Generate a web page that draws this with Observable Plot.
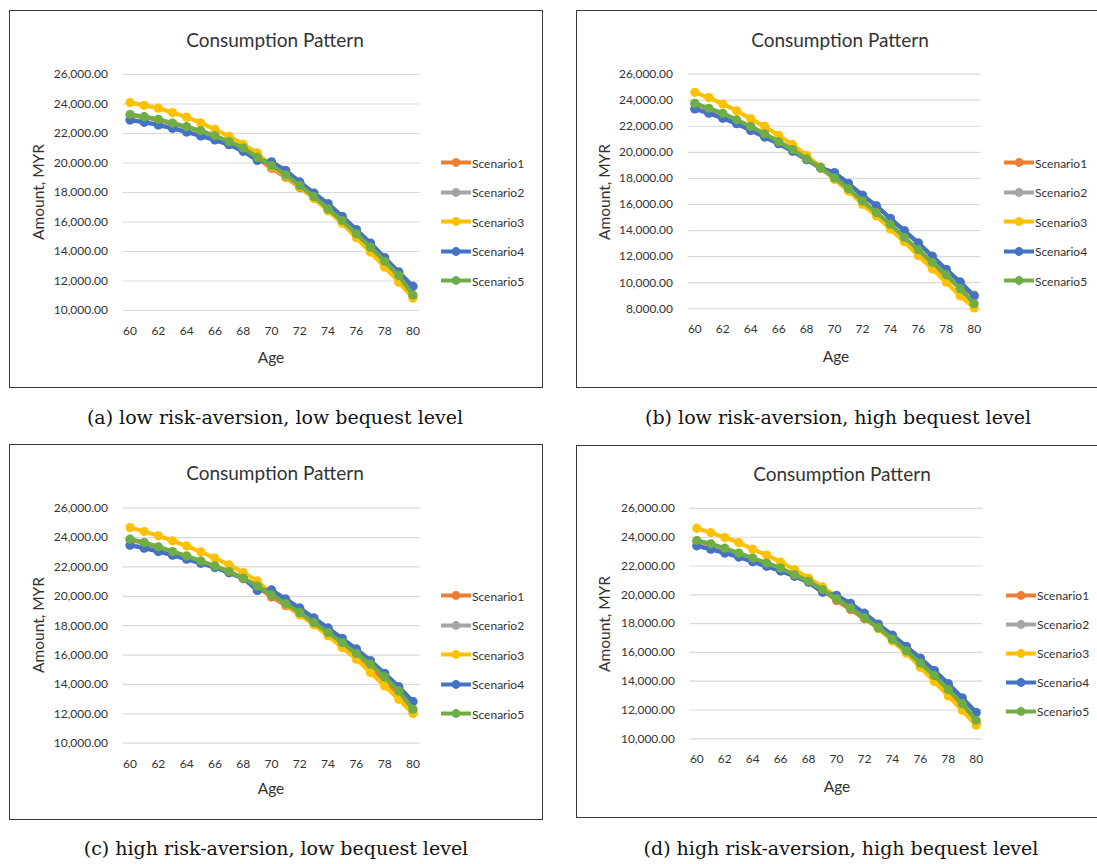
<!DOCTYPE html>
<html>
<head>
<meta charset="utf-8">
<script src="https://cdn.jsdelivr.net/npm/d3@7"></script>
<script src="https://cdn.jsdelivr.net/npm/@observablehq/plot@0.6"></script>
<style>
  html, body { margin: 0; padding: 0; background: #fff; }
  body { width: 1097px; height: 864px; overflow: hidden; position: relative; }
  .box { position: absolute; border: 1.5px solid #3a3a3a; box-sizing: border-box; background: #fff; }
  .abs { position: absolute; transform: translate(-50%, -50%); white-space: nowrap; }
  .title { font-family: Lato, "Open Sans", sans-serif; font-size: 19px; color: #333; }
  .axt { font-family: Lato, "Open Sans", sans-serif; font-size: 15.5px; color: #333; }
  .cap { font-family: "DejaVu Serif", "Liberation Serif", serif; font-size: 19px; color: #111; }
  .leg { position: absolute; display: flex; align-items: center; font-family: Lato, "Open Sans", sans-serif; font-size: 12px; color: #333; transform: translateY(-50%); }
  .plotwrap { position: absolute; }
</style>
</head>
<body>
<script>
// ---------- data ----------
const ages = [60,61,62,63,64,65,66,67,68,69,70,71,72,73,74,75,76,77,78,79,80];
const seriesNames = ["Scenario1","Scenario2","Scenario3","Scenario4","Scenario5"];
const seriesColors = ["#ED7D31","#A5A5A5","#FFC000","#4472C4","#70AD47"];
const xTicks = [60,62,64,66,68,70,72,74,76,78,80];
const yTicks10k = [10000,12000,14000,16000,18000,20000,22000,24000,26000];
const yTicks8k = [8000,10000,12000,14000,16000,18000,20000,22000,24000,26000];
const chartTitle = "Consumption Pattern";
const xLabel = "Age";
const yLabel = "Amount, MYR";
const captions = [
  "(a) low risk-aversion, low bequest level",
  "(b) low risk-aversion, high bequest level",
  "(c) high risk-aversion, low bequest level",
  "(d) high risk-aversion, high bequest level"
];

// (a) low risk-aversion, low bequest level
const a_s1 = [23240,23100,22920,22670,22420,22150,21810,21410,20980,20340,19640,19040,18330,17640,16820,16010,15080,14140,13160,12160,10950];
const a_s2 = [22930,22780,22600,22370,22120,21850,21580,21260,20810,20190,20080,19510,18720,17970,17250,16390,15490,14580,13590,12620,11650];
const a_s3 = [24100,23910,23720,23420,23110,22720,22280,21800,21270,20680,19760,19120,18380,17590,16760,15920,14930,13950,12940,11920,10840];
const a_s4 = [22910,22760,22580,22350,22100,21830,21560,21240,20790,20170,20060,19490,18700,17950,17230,16370,15470,14560,13570,12600,11630];
const a_s5 = [23280,23140,22960,22710,22460,22190,21850,21450,21020,20380,19830,19200,18470,17730,16890,16100,15200,14290,13340,12370,11050];

// (b) low risk-aversion, high bequest level
const b_s1 = [23720,23340,22960,22450,21950,21390,20780,20170,19460,18780,17990,17130,16180,15270,14360,13350,12400,11430,10450,9600,9050];
const b_s2 = [23350,23020,22640,22210,21700,21190,20680,20100,19460,18830,18450,17630,16720,15910,14940,14000,13060,12040,11030,10060,9000];
const b_s3 = [24600,24200,23710,23180,22570,21990,21300,20590,19770,18890,17920,17030,16010,15120,14110,13140,12070,11060,10040,8980,8060];
const b_s4 = [23330,23000,22620,22190,21680,21170,20660,20080,19440,18810,18430,17610,16700,15890,14920,13980,13040,12020,11010,10040,8980];
const b_s5 = [23760,23380,23000,22490,21990,21430,20820,20210,19500,18810,18050,17210,16270,15380,14490,13470,12530,11570,10600,9530,8390];

// (c) high risk-aversion, low bequest level
const c_s1 = [23850,23620,23330,23010,22710,22370,22030,21650,21190,20670,19950,19380,18760,18120,17420,16680,15910,15100,14200,13270,12150];
const c_s2 = [23500,23300,23070,22820,22550,22270,21980,21620,21250,20420,20440,19820,19210,18530,17850,17140,16420,15620,14760,13850,12850];
const c_s3 = [24680,24410,24120,23780,23430,23030,22600,22140,21620,21050,20150,19460,18740,18060,17310,16510,15720,14810,13900,12990,12020];
const c_s4 = [23480,23280,23050,22800,22530,22250,21960,21600,21230,20400,20420,19800,19190,18510,17830,17120,16400,15600,14740,13830,12830];
const c_s5 = [23890,23660,23370,23050,22750,22410,22070,21690,21230,20710,20100,19510,18890,18210,17530,16850,16100,15380,14510,13560,12310];

// (d) high risk-aversion, high bequest level
const d_s1 = [23730,23500,23200,22860,22510,22170,21820,21360,20900,20330,19600,18980,18330,17680,16860,16030,15110,14190,13200,12210,11120];
const d_s2 = [23420,23190,22920,22640,22320,22000,21670,21310,20890,20200,19970,19420,18730,17970,17210,16430,15610,14760,13840,12850,11840];
const d_s3 = [24620,24320,23980,23630,23170,22760,22280,21750,21170,20550,19910,19170,18410,17650,16800,15950,14960,13980,12970,11980,10940];
const d_s4 = [23400,23170,22900,22620,22300,21980,21650,21290,20870,20180,19950,19400,18710,17950,17190,16410,15590,14740,13820,12830,11820];
const d_s5 = [23770,23540,23240,22900,22550,22210,21860,21400,20940,20370,19720,19100,18410,17720,16920,16110,15260,14390,13420,12440,11290];

// ---------- layout (page pixels) ----------
const panels = [
  { series: [a_s1,a_s2,a_s3,a_s4,a_s5], yTicks: yTicks10k,
    box: {l: 9, t: 10, w: 534, h: 378}, m: {l: 113.5, r: 123.5, t: 64, b: 78},
    title: [275, 38.5], ytitle: [38, 191.5], xtitle: [271, 356.5], cap: [275, 417],
    leg: {x: 441, y0: 162.7, dy: 29.5} },
  { series: [b_s1,b_s2,b_s3,b_s4,b_s5], yTicks: yTicks8k,
    box: {l: 576, t: 10, w: 524, h: 378}, m: {l: 112, r: 117, t: 64, b: 78},
    title: [840, 38.5], ytitle: [604, 191.7], xtitle: [836, 356], cap: [838, 417],
    leg: {x: 1004, y0: 162.7, dy: 29.5} },
  { series: [c_s1,c_s2,c_s3,c_s4,c_s5], yTicks: yTicks10k,
    box: {l: 9, t: 444, w: 534, h: 376}, m: {l: 113.5, r: 123.5, t: 63.7, b: 77.3},
    title: [275, 472.3], ytitle: [38, 625], xtitle: [271, 788.3], cap: [276, 848],
    leg: {x: 441, y0: 595.5, dy: 29.5} },
  { series: [d_s1,d_s2,d_s3,d_s4,d_s5], yTicks: yTicks10k,
    box: {l: 576, t: 445, w: 524, h: 373}, m: {l: 114, r: 115, t: 63.3, b: 78},
    title: [842, 473.3], ytitle: [604, 624], xtitle: [837, 786], cap: [841, 848],
    leg: {x: 1006, y0: 595, dy: 29.1} }
];

function addText(cls, text, pos, rotate) {
  const d = document.createElement("div");
  d.className = "abs " + cls;
  d.textContent = text;
  d.style.left = pos[0] + "px";
  d.style.top = pos[1] + "px";
  if (rotate) d.style.transform = "translate(-50%, -50%) rotate(-90deg)";
  document.body.appendChild(d);
}

panels.forEach((p, pi) => {
  const box = document.createElement("div");
  box.className = "box";
  Object.assign(box.style, {left: p.box.l + "px", top: p.box.t + "px", width: p.box.w + "px", height: p.box.h + "px"});
  document.body.appendChild(box);

  const rows = [];
  seriesNames.forEach((name, si) => {
    ages.forEach((age, j) => rows.push({age, value: p.series[si][j], series: name}));
  });

  const seriesMarks = seriesNames.flatMap(name => {
    const sub = rows.filter(r => r.series === name);
    return [
      Plot.line(sub, {x: "age", y: "value", stroke: "series", strokeWidth: 4.2, strokeLinejoin: "round", strokeLinecap: "round"}),
      Plot.dot(sub, {x: "age", y: "value", fill: "series", r: 4.6, stroke: "none"})
    ];
  });

  const svg = Plot.plot({
    width: p.box.w, height: p.box.h,
    marginLeft: p.m.l, marginRight: p.m.r, marginTop: p.m.t, marginBottom: p.m.b,
    style: {fontFamily: "Lato, 'Open Sans', sans-serif", fontSize: "12px", color: "#333", background: "transparent", overflow: "visible"},
    x: {domain: [59.5, 80.5], ticks: xTicks, tickFormat: d => String(d), tickSize: 0, tickPadding: 16, label: null},
    y: {domain: [p.yTicks[0], 26000], ticks: p.yTicks, tickFormat: d3.format(",.2f"), tickSize: 0, tickPadding: 15, label: null},
    color: {domain: seriesNames, range: seriesColors},
    marks: [
      Plot.ruleY(p.yTicks, {stroke: "#d9d9d9", strokeWidth: 1.2}),
      ...seriesMarks
    ]
  });
  const wrap = document.createElement("div");
  wrap.className = "plotwrap";
  wrap.style.left = p.box.l + "px";
  wrap.style.top = p.box.t + "px";
  wrap.appendChild(svg);
  document.body.appendChild(wrap);

  addText("title", chartTitle, p.title);
  addText("axt", yLabel, p.ytitle, true);
  addText("axt", xLabel, p.xtitle);
  addText("cap", captions[pi], p.cap);

  seriesNames.forEach((name, si) => {
    const row = document.createElement("div");
    row.className = "leg";
    row.style.left = p.leg.x + "px";
    row.style.top = (p.leg.y0 + si * p.leg.dy) + "px";
    const ns = "http://www.w3.org/2000/svg";
    const sw = document.createElementNS(ns, "svg");
    sw.setAttribute("width", 30); sw.setAttribute("height", 10);
    const ln = document.createElementNS(ns, "line");
    ln.setAttribute("x1", 0); ln.setAttribute("x2", 30); ln.setAttribute("y1", 5); ln.setAttribute("y2", 5);
    ln.setAttribute("stroke", seriesColors[si]); ln.setAttribute("stroke-width", 4.2);
    const c = document.createElementNS(ns, "circle");
    c.setAttribute("cx", 15); c.setAttribute("cy", 5); c.setAttribute("r", 4.4);
    c.setAttribute("fill", seriesColors[si]);
    sw.appendChild(ln); sw.appendChild(c);
    const t = document.createElement("span");
    t.textContent = name;
    t.style.marginLeft = "1px";
    row.appendChild(sw); row.appendChild(t);
    document.body.appendChild(row);
  });
});
</script>
</body>
</html>
